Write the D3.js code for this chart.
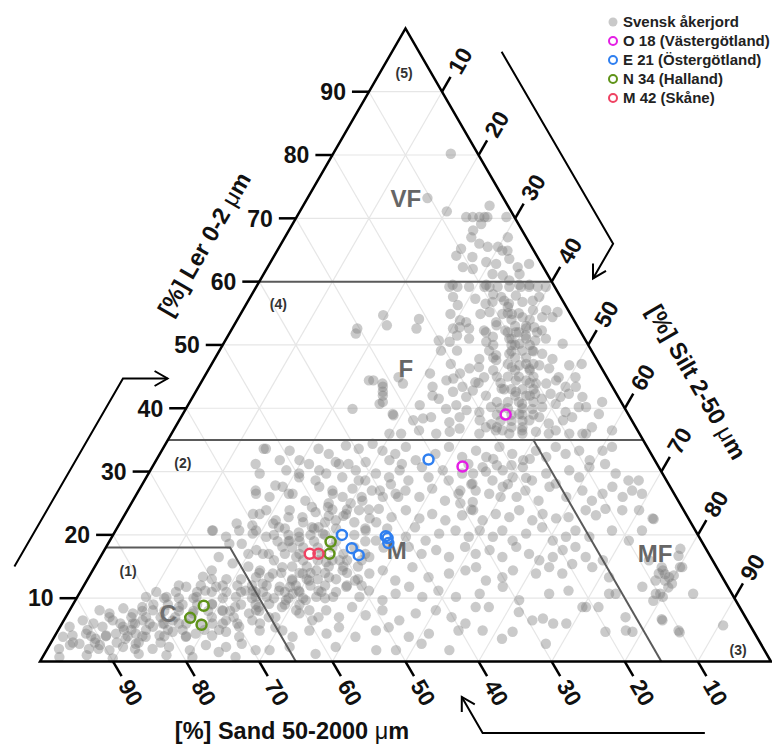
<!DOCTYPE html>
<html>
<head>
<meta charset="utf-8">
<script src="https://cdn.jsdelivr.net/npm/d3@7/dist/d3.min.js"></script>
<style>
body{margin:0;background:#fff;}
svg{display:block;font-family:"Liberation Sans",Arial,sans-serif;}
</style>
</head>
<body>
<svg id="chart" width="772" height="745"></svg>
<script>
// every point is [clay %, silt %]; sand = 100 - clay - silt

// Svensk åkerjord
var soilTop = [[80.2,16.1],[73.2,16.4],[71.1,20.1],[72,25.5],[70.2,23.2],[70.2,24.1],[70.2,25],[70.2,25.7],[70.2,26.1],[70.2,28.7],
  [69.1,25.8],[68.1,25.2],[67,25.5],[67,30.5],[66,27.1],[65.5,28.5],[65.5,29.9],[64.9,30.8],[64.9,31.5],[65.2,25],[64.1,24.9],
  [63.9,27.2],[63.1,29.5],[62.8,31],[63.6,32.4],[62.3,34.2],[62.8,35.5],[62.3,26.7],[62,28.2],[61.2,31.3],[61,32.8],[61.2,35],
  [60.2,34.1],[59.5,26.7],[59.5,31.3],[59.5,35.8],[59.5,37.2]];

var soilF = [[59.2,26.4],[59.2,27.5],[59.2,29.1],[59.2,31.2],[59.2,31.9],[59.2,33],[59.2,34.6],[59.2,36.2],[59.2,37.3],[59.2,38.5],[59.2,39.6],
  [57.6,27.7],[56.3,29],[57.3,30.9],[56.5,32.7],[56.8,33.5],[57.6,34.3],[56.5,35.9],[57.8,36.2],[56.8,37.6],[57,38.9],[57.6,39.5],[55.5,41.5],
  [54.7,19.6],[54.1,24.8],[54.9,28.7],[53.9,30.5],[53.6,31.5],[54.9,32.8],[55.2,33.9],[53.6,35.6],[54.9,35.8],[54.9,37.1],[54.4,38.8],[55.5,39.7],[54.4,41.5],[54.4,42.9],[55.2,43.2],
  [53.1,20.9],[52.6,25.2],[52.6,30.2],[52.8,31],[52.6,32.4],[52.3,34.6],[53.1,35.9],[52.3,37.5],[52,39.1],[52.6,40.2],[52.8,41.2],[52.3,42.5],
  [50.7,29.2],[50.5,30.8],[51.5,31.3],[51,33.2],[50.5,35.8],[51.3,36.3],[51,38.7],[50.2,40.5],[51.5,40.7],[50.7,42.4],[51,43.7],[50.2,46.4],
  [49.1,30.3],[49.1,32.5],[47.8,36.2],[49.1,36.9],[48.4,38.2],[48.6,39.9],[49.1,41.4],[49.1,42.8],[48.6,44.4],[47.8,46.2],[46.8,49],
  [45.5,30.6],[47,32.7],[45.5,34.7],[46.3,35.6],[46.5,36.8],[44.9,38.3],[47.6,38.6],[46.5,41.3],[46.8,42.2],[46.3,43.8],[46.8,44.9],[46.3,46.5],[44.9,48.5],[44.9,50.8],
  [44.4,23.4],[43.4,25.2],[43.9,27.7],[43.4,32],[44.4,33.4],[44.7,34.2],[43.4,36.1],[44.1,37.5],[43.1,41.6],[44.4,42.9],[44.4,44.3],[43.9,45.9],[43.9,47.3],[44.4,48.4],[43.4,50.2],[43.4,51.6],
  [42,25.9],[42,32.7],[41.5,33.8],[42.6,35.2],[41.8,37.4],[42.8,37.8],[42.6,43.8],[42,45.5],[42.3,46.6],[41.5,47.9],[42.3,48.7],[41.8,50.3],[42.3,51.2],[41.8,53.3],
  [40.7,26.1],[39.1,28.7],[40.5,31.7],[39.9,35.6],[40.5,36.7],[39.7,38.5],[39.4,40.4],[40.2,41.6],[40.7,45.6],[39.9,47.4],[40.2,48.6],[40.7,50.2],[39.4,52.2],[40.2,53.6],
  [38.9,28.9],[38.1,32],[38.4,33.2],[38.6,34.2],[37.8,37.1],[38.6,38.1],[38.1,41.1],[37,42.5],[39.1,46],[38.1,47.9],[38.6,49],[37.6,50.8],[38.1,52.5],[38.6,53.5],
  [36,29.8],[36,31.4],[36.5,33.6],[36,36.2],[36.3,37.9],[36.8,39],[36,42.1],[36.5,44.1],[36,46.2],[36.5,47.7],[36.3,49.7],[36,51.6],[36.5,52.3],[36,54.4],[36,56.2],
  [51.8,17.3],[43.9,24.9],[42.6,25.6],[41,26.4],[44.4,22.8],[39.9,22.8],[44.9,26.6],[52.6,17.1],
  [40.2,54.6],[41,56.4],[39.1,56.9],[37,57],[36.5,60],[36,56.7],[47,50.6],
  [50,40],[48,41],[46,42],[45,40],[44,41],[43,43],[42,44],[41,42],[40,43],[39,45],[38,44],[37,46],[47,44],[49,43],[51,41],[53,40],
  [52,38],[55,38],[57,35],[58,33],[45,45],[43,46],[41,47],[40,46],[39,48],[38,47],[36,48],[37,44],[42,40],[44,38],[46,39],[48,38],[50,37],[52,35],
  [56,36],[55,36.5],[54,37.5],[53,38.5],[52,39.5],[51,39],[50,39.5],[49,40],[48,42.5],[47,43],[46,44],[45,43],[44,45],[43,44.5],[42,46],
  [41,45],[40,44],[39,46.5],[38,45.5],[37,47.5],[36.5,45],[47,40.5],[45,41.5],[43,42],[41,43.5],[39,43],[37.5,43],[50,42],[52,42],[54,40]];

var soilM = [[33.6,13.8],[33.3,17.5],[31.8,19.6],[33.6,21.3],[32.8,23.1],[34.1,24.8],[33.6,26.8],[34.4,28.3],[33.3,30.2],[32.8,32.2],[33.9,33.1],[31.8,35.5],[32.8,37.7],[33.9,39],[32.3,41.6],
  [31.2,13.9],[31.8,16.9],[31.2,21.2],[31.5,24.7],[31.2,26.6],[31.5,28.8],[31.8,31.9],[31.2,33.9],[30.7,36.9],[30.2,40],[31.2,43],
  [29.7,15.2],[30.2,18.6],[29.1,20.9],[28.6,23.4],[29.7,24.3],[29.1,26.8],[30.2,28.1],[28.6,30.2],[29.7,31.1],[29.1,33.2],[30.2,34.1],[28.6,36.1],[29.1,38.6],[28.6,41.6],[29.7,42.9],[28.1,45.1],
  [27,16],[26,18.4],[27.6,19.4],[26.5,21.3],[25.4,23.6],[27.6,24.4],[26.5,26.8],[26,28.4],[27.3,29.1],[25.4,31.4],[27,31.9],[26,33.9],[26.5,35.4],[27,36.5],[26,38.9],[27.3,40],[25.4,42.7],[26.5,44],[25.2,46.6],
  [23.3,17.5],[23.9,19],[22.3,21.1],[23.9,22.2],[22.8,24.5],[23.6,25.9],[24.4,27.2],[22.3,29.3],[23.3,30.2],[23.9,31.7],[22.6,33.8],[24.1,34.3],[22.8,36.7],[23.9,38.1],[22.6,40.6],[23.3,42],[22.3,44.3],[23.1,46.2],
  [20.7,19.2],[19.7,21.1],[21.2,22.1],[19.1,24.6],[20.4,25.2],[21.2,26.6],[20.2,28.6],[20.7,34.2],[19.1,36.4],[19.7,40.2],[21.2,40.7],[19.1,43.2],[20.2,44.5],[20.7,46.5],[19.7,48.8],
  [17.6,20.8],[17,22.8],[18.1,24.1],[16.5,26.8],[15.7,31.3],[16,33],[16.5,36.8],[18.1,41.4],[17,43.7],[17.6,45.4],[16.5,47.7],[18.1,49.1],
  [14.4,22.9],[13.3,24.7],[14.9,25.7],[12.8,28.1],[13.9,29],[14.4,30.6],[13.3,32.9],[14.4,34.2],[12.8,36.7],[13.9,38.1],[14.4,39.7],[12.8,42.2],[14.9,43.5],[13.3,46.5],[13.9,49],[14.4,51],
  [11.2,23.5],[10.2,25.9],[11.8,26.9],[10.7,29.2],[9.7,31.5],[11.2,32.5],[10.2,35],[11.8,36],[10.2,38.6],[11.2,39.4],[9.7,42],[10.7,43.3],[11.8,44.6],[10.2,47.2],[11.2,48.9],[10.2,51.8],
  [8.1,25.5],[7,27.8],[8.6,28.8],[7.6,31.7],[6.5,34],[8.1,35.1],[7,37.4],[8.6,38.4],[7.3,40.9],[8.1,42.8],[6.5,45.9],[7.6,47.6],[8.1,50.1],[7,52.8],[6,55.2],
  [4.9,27.6],[5.4,29.5],[3.9,32.6],[4.9,34.4],[4.4,37],[5.4,38.2],[3.9,41.2],[4.9,43.5],[5.4,45],[3.9,48.5],[4.4,51],[4.9,54.8],
  [1.8,30.5],[2.3,33],[1.2,37.1],[2.3,39.3],[1.8,45.1],[1.8,47.8],[2.8,50.8],[1.8,55.1],
  [13.3,22.9],[12.3,24.3],[13.9,24.9],[11.2,27.1],[11.8,28.3],[11.2,29.8],[12.8,30.4],[10.2,32.7],[9.1,26.8],[9.7,28.8],[8.1,31],[6,27.1],[7,28.7],[8.1,32.8],[7,34.6],[4.9,30.7],
  [33.6,14.1],[27.8,18.3],[26.5,16.3],[29.7,20.6],[26.5,20.8],[20.7,13.3],[21.8,16],[20.2,19],[23.3,18.4],[21.8,21],[18.6,16.6],[22.8,22.6],[24.4,25],[21.2,27.5],[19.7,25.6],[27,26.5],[30.2,23.1],[31.2,25.3],[28.6,29.3],
  [22,25],[21,27],[20,24],[19,26],[18,27],[17,25],[16,24],[15,27],[14,26],[13,28],[20,29],[19,31],[18,29],[16,30],[15,32],[14,30],[12,31],[11,30],[10,29],
  [24,30],[23,28],[22,32],[21,34],[17,33],[13,34],[12,36],[11,33],[16,36],[18,38],[10,34],[9,31],[14,23],[12,25],[11,24],[13,21],[15,21],[17,22],[19,23],
  [21,23],[20,22],[19,24.5],[18,25.5],[17,27],[16,28],[15,29],[14,28.5],[13,30],[12,29],[11,28],[10,27],[20,27],[19,28],[18,31],[17,30],
  [16,32],[15,34],[14,32],[13,31.5],[12,33],[11,35],[10,31],[9,29],[22,28],[23,30],[24,28],[25,27],[21,30],[20,33],[19,35],[18,34],
  [17,36],[16,34],[15,36],[14,35],[13,37],[12,38],[25,30],[26,31],[27,33],[24,33],[22,35],[21,37],[28,34],[26,36]];

var soilMF = [[33.3,43],[32.3,44.9],[33.9,45.9],[32.8,48.2],[31.8,50.2],[33.3,51.2],[32.3,53.1],[33.9,53.6],[32.8,55.5],[33.3,57.1],[31.8,59.3],[33.3,60.3],[33.9,61.3],
  [29.7,44.4],[30.7,45.2],[28.6,47.6],[30.2,48.2],[29.1,50.1],[30.7,50.7],[28.6,53],[29.7,54.4],[28.1,56.5],[30.2,57.3],[29.1,59.2],[30.7,59.8],[31.2,61.7],[29.7,63.9],[28.6,66.2],[28.6,67.6],
  [27,46.1],[26.5,48.2],[27.6,49.5],[26,52.2],[27,52.9],[25.4,55.5],[27.6,55.9],[26,59],[27,60.7],[25.4,62.8],[26.5,63.7],[27.6,64.5],[26,66.7],[27,67.5],[26.5,69.1],
  [23.9,47.3],[22.3,49.4],[23.3,50.7],[22.8,52.8],[23.9,53.6],[22.3,56.2],[23.3,57.1],[22.6,59.3],[22.8,60.9],[23.9,62.7],[23.1,64.5],[24.1,65.3],[23.9,67.7],[23.9,70],[22.6,72.5],
  [20.7,49.8],[19.7,52.1],[20.7,52.9],[19.1,55.1],[20.2,56.4],[21.2,58.1],[19.1,60.6],[19.7,62.1],[20.7,62.9],[19.7,65.3],[20.7,67.9],[19.1,71],[20.7,72],
  [17,51.1],[17.6,52.7],[16.5,55],[18.1,56.1],[17,58.4],[16,60.3],[16.5,61.9],[17.6,62.7],[18.1,64.2],[16.5,66.4],[16,69],[16,75.3],[14.4,78],[13.3,79.4],[12.3,80.3],[14.9,80.4],
  [14.9,52.2],[12.8,54.6],[13.3,56.6],[14.4,57.5],[13.9,60.9],[14.9,62.2],[13.9,64.5],[15.4,65.1],[14.9,68.1],[13.3,71.2],[13.9,77.7],[12.8,79.1],
  [10.7,54.8],[11.8,57.4],[9.7,60.7],[10.7,64.3],[11.2,66.7],[8.6,69.9],[8.6,70.4],[10.7,72.5],[10.7,73.4],[11.8,76.5],[10.7,78.9],[10.2,80.1],
  [8.6,55.3],[8.6,57.1],[7.8,61.6],[6.5,64.1],[6.8,65.4],[6,67.2],[6,69],[8.6,72.1],[7,76.6],[6.5,81.9],
  [4.9,58.1],[3.6,61.4],[4.7,62.3],[2.8,67.8],[4.7,75],[4.9,77.7],[4.7,78.7],[4.9,84.9],
  [22.5,72.7],[17.8,78.7],[16.7,79],[14.9,77.6],[13.8,78.6],[13.6,79.9],[14.9,80.1],[12.8,77.8],[11.7,80.1],[10.7,79.5],[9.6,79.1],[10.7,84],[6.7,81.7],[4.6,85.2],[5.7,90.6],
  [32,46],[31,47],[30,46],[31,49],[28,45],[27,44],[25,45],[24,47],[32,51],[29,52],[28,50],[26,50]];

var soilC = [[20.7,13.2],[19.7,15.6],[20.7,16.9],[21.5,18.3],[18.6,18.3],[17,20],[16.5,16.2],[15.5,18.6],[14.4,16.3],[13.4,15.6],
  [10.2,9.4],[11,10.4],[10.2,12.2],[11,13.1],[11.8,14.1],[10.2,16.3],[11.2,17],[11.8,18.2],[11,20],[10.2,21.7],[11.2,22.5],[10.2,24.4],
  [8.1,4.1],[7.6,5.7],[8.4,7.2],[7.6,8.9],[8.6,9.7],[8.1,11.4],[8.6,14.7],[7.6,17.1],[9.1,19],[8.1,20.9],[8.6,22.4],[7.6,24.8],[8.6,25.6],
  [5.5,1.3],[6.5,2.6],[6,4.3],[5.5,5.8],[6.5,6.7],[5.5,8.6],[6,9.7],[6.5,10.8],[5.5,12.7],[6,13.8],[6.5,14.9],[6,17],[6,20.6],[6.5,22.2],[5.5,24.5],[6.5,25.8],
  [3.9,1.2],[4.1,2.4],[4.4,4.1],[3.6,5.8],[4.1,7],[4.4,8.2],[3.6,9.9],[4.4,10.9],[3.9,12.5],[4.1,14.3],[4.7,15.8],[3.9,18],[4.4,19.1],[4.1,21.5],[4.7,23.1],[3.9,25.3],
  [2,1.6],[2.6,2.8],[2.8,4],[2,5.7],[2.6,6.9],[1.8,8.6],[2.3,10.2],[2.8,11.7],[2,14.4],[2.3,16.5],[1.8,19.6],[2.6,21.4],[2.3,24.3],[2.8,26.2],[1.8,28.6],
  [0.7,2.3],[1,5.9],[0.5,9.7],[1.2,12.9],[1,16.8],[0.7,20.5],[1.5,23.7],[0.7,26.4],
  [11,16],[10,14],[9,13],[8,15],[7,13],[6,12],[9,17],[8,19],[7,17],[10,20],[12,19],[11,22],[9,23],[8,22],[6,19],
  [5,15],[4,12],[5,10],[6,8],[4,7],[3,9],[7,6],[5,4],[3,3],[12,13],[13,17],[12,21],[10,24],[8,26],[6,24],
  [10,12],[9,11],[8,10],[7,9],[6,10],[5,9],[9,15],[8,13],[7,11],[6,14],[5,12],[4,10],[8,17],[7,15],[6,16],[5,17],[4,15],[3,12],
  [10,16],[9,19],[8,21],[7,20],[6,22],[5,20],[4,18],[3,15],[2,12],[3,6],[2,7],[4,5],[11,18],[12,16],[13,19],[12,23],[11,25],[9,25],[7,23],[5,22]];

// the four profiles
var o18 = [[39,44.2],[30.8,42.4]];
var e21 = [[31.9,37.2],[20,31.3],[17.9,33.7],[16.8,35.2],[19.8,37.4],[19.5,37.8],[18.7,38.3]];
var n34 = [[18.9,30.3],[17,31.1],[8.8,18],[6.9,17.1],[5.8,19.2]];
var m42 = [[17,28.4],[17,29.6]];

var axisTicks = [10, 20, 30, 40, 50, 60, 70, 80, 90];

// class borders as [clay, silt] pairs
var borders = [
  [[60,0],[60,40]],
  [[35,0],[35,65]],
  [[35,50],[0,85]],
  [[18,0],[18,17],[0,35]]
];
var classNames = ["VF", "F", "M", "MF", "C"];
var classPos = [[73.1,13.5],[46.3,26.9],[17.6,40],[17.1,75.6],[7.65,13.7]];
var zoneNames = ["(1)", "(2)", "(3)", "(4)", "(5)"];
var zonePos = [[14.3,4.9],[31.3,3.9],[1.8,94.6],[56.4,4.4],[93,3.3]];

var legendNames = ["Svensk åkerjord", "O 18 (Västergötland)", "E 21 (Östergötland)", "N 34 (Halland)", "M 42 (Skåne)"];
var legendColors = ["#c9c9c9", "#e41ee4", "#2f7ff0", "#5f9318", "#ef4262"];

var x = d3.scaleLinear().domain([0, 100]).range([40, 771]);
var y = d3.scaleLinear().domain([0, 100]).range([661.5, 28.4]);

// clay, silt -> screen
function pos(clay, silt){
    return [x(silt + clay / 2), y(clay)];
}
function tern(d){ return pos(d[0], d[1]); }

var svg = d3.select("#chart");
var line = d3.line();

// light grid every 10 %
var grid = svg.append("g").attr("fill", "none").attr("stroke", "#e6e6e6").attr("stroke-width", 1.2);
axisTicks.forEach(function(k){
    grid.append("path").attr("d", line([pos(k, 0), pos(k, 100 - k)]));
    grid.append("path").attr("d", line([pos(0, k), pos(100 - k, k)]));
    grid.append("path").attr("d", line([pos(0, 100 - k), pos(100 - k, 0)]));
});

// class names under the dots
svg.append("g").selectAll("text")
    .data(classNames)
    .enter().append("text")
    .attr("x", function(d, i){ return tern(classPos[i])[0]; })
    .attr("y", function(d, i){ return tern(classPos[i])[1]; })
    .attr("dy", "0.36em")
    .attr("text-anchor", "middle")
    .style("font-size", "24px")
    .style("font-weight", "bold")
    .style("fill", "#666")
    .text(function(d){ return d; });

// Swedish soils
var soils = soilTop.concat(soilF, soilM, soilMF, soilC);
svg.append("g").selectAll("circle")
    .data(soils)
    .enter().append("circle")
    .attr("cx", function(d){ return tern(d)[0]; })
    .attr("cy", function(d){ return tern(d)[1]; })
    .attr("r", 5.2)
    .attr("fill", "#7a7a7a")
    .attr("fill-opacity", 0.4);

// class borders
svg.append("g").selectAll("path")
    .data(borders)
    .enter().append("path")
    .attr("d", function(d){ return line(d.map(tern)); })
    .attr("fill", "none")
    .attr("stroke", "#5a5a5a")
    .attr("stroke-width", 2);

// zone numbers
svg.append("g").selectAll("text")
    .data(zoneNames)
    .enter().append("text")
    .attr("x", function(d, i){ return tern(zonePos[i])[0]; })
    .attr("y", function(d, i){ return tern(zonePos[i])[1]; })
    .attr("dy", "0.36em")
    .attr("text-anchor", "middle")
    .style("font-size", "14px")
    .style("font-weight", "bold")
    .style("fill", "#333")
    .text(function(d){ return d; });

// outline
svg.append("path")
    .attr("d", line([pos(0, 0), pos(100, 0), pos(0, 100)]) + "Z")
    .attr("fill", "none")
    .attr("stroke", "#000")
    .attr("stroke-width", 2.5)
    .attr("stroke-linejoin", "miter");

// ticks and numbers
var tickLen = 17, gap = 6;
var ticks = svg.append("g").attr("stroke", "#000").attr("stroke-width", 2.5);
var labels = svg.append("g").style("font-size", "23px").style("font-weight", "bold").style("fill", "#111");

axisTicks.forEach(function(t){
    // clay on the left edge
    var p = pos(t, 0);
    ticks.append("line").attr("x1", p[0]).attr("y1", p[1]).attr("x2", p[0] - tickLen).attr("y2", p[1]);
    labels.append("text").attr("x", p[0] - tickLen - gap).attr("y", p[1]).attr("dy", "0.36em")
        .attr("text-anchor", "end").text(t);

    // silt on the right edge
    p = pos(100 - t, t);
    var e = [p[0] + tickLen * 0.5, p[1] - tickLen * 0.866];
    ticks.append("line").attr("x1", p[0]).attr("y1", p[1]).attr("x2", e[0]).attr("y2", e[1]);
    labels.append("text").attr("transform", "translate(" + e[0] + "," + e[1] + ") rotate(-60)")
        .attr("x", gap).attr("dy", "0.36em").text(t);

    // sand on the base
    p = pos(0, 100 - t);
    e = [p[0] + tickLen * 0.5, p[1] + tickLen * 0.866];
    ticks.append("line").attr("x1", p[0]).attr("y1", p[1]).attr("x2", e[0]).attr("y2", e[1]);
    labels.append("text").attr("transform", "translate(" + e[0] + "," + e[1] + ") rotate(60)")
        .attr("x", gap).attr("dy", "0.36em").text(t);
});

// axis titles
function title(txt, cx, cy, angle){
    var t = svg.append("text")
        .attr("transform", "translate(" + cx + "," + cy + ") rotate(" + angle + ")")
        .attr("text-anchor", "middle")
        .attr("dy", "0.36em")
        .style("font-size", "23.5px")
        .style("font-weight", "bold")
        .style("fill", "#111");
    t.append("tspan").text(txt + " ");
    t.append("tspan").style("font-weight", "normal").text("μ");
    t.append("tspan").text("m");
}
title("[%] Ler 0-2", 204, 244, -60);
title("[%] Silt 2-50", 697, 382, 60);
title("[%] Sand 50-2000", 292, 731, 0);

// direction arrows, drawn in the same clay/silt frame
var arrows = [
    [[15,-11],[44.7,-11],[44.7,-4.9]],
    [[96.3,15],[66,45.4],[60.5,45.4]],
    [[-11.3,96.6],[-11.3,66.2],[-5.6,60.5]]
];
arrows.forEach(function(a){
    var pts = a.map(tern);
    var tip = pts[pts.length - 1], prev = pts[pts.length - 2];
    var ang = Math.atan2(tip[1] - prev[1], tip[0] - prev[0]);
    var L = 15, spread = Math.PI / 6;
    var h1 = [tip[0] - L * Math.cos(ang - spread), tip[1] - L * Math.sin(ang - spread)];
    var h2 = [tip[0] - L * Math.cos(ang + spread), tip[1] - L * Math.sin(ang + spread)];
    svg.append("path").attr("d", line(pts)).attr("fill", "none").attr("stroke", "#000").attr("stroke-width", 2);
    svg.append("path").attr("d", line([h1, tip, h2])).attr("fill", "none").attr("stroke", "#000").attr("stroke-width", 2);
});

// the four profiles
var profiles = [o18, e21, n34, m42];
profiles.forEach(function(set, i){
    svg.append("g").selectAll("circle")
        .data(set)
        .enter().append("circle")
        .attr("cx", function(d){ return tern(d)[0]; })
        .attr("cy", function(d){ return tern(d)[1]; })
        .attr("r", 5)
        .attr("fill", "none")
        .attr("stroke", legendColors[i + 1])
        .attr("stroke-width", 2.5);
});

// legend
var legend = svg.append("g").selectAll("g")
    .data(legendNames)
    .enter().append("g")
    .attr("transform", function(d, i){ return "translate(613," + (22 + i * 19) + ")"; });
legend.append("circle")
    .attr("r", function(d, i){ return i === 0 ? 4.5 : 4; })
    .attr("fill", function(d, i){ return i === 0 ? legendColors[0] : "none"; })
    .attr("stroke", function(d, i){ return i === 0 ? "none" : legendColors[i]; })
    .attr("stroke-width", 2);
legend.append("text")
    .attr("x", 10)
    .attr("dy", "0.36em")
    .style("font-size", "15px")
    .style("font-weight", "bold")
    .style("fill", "#222")
    .text(function(d){ return d; });
</script>
</body>
</html>
